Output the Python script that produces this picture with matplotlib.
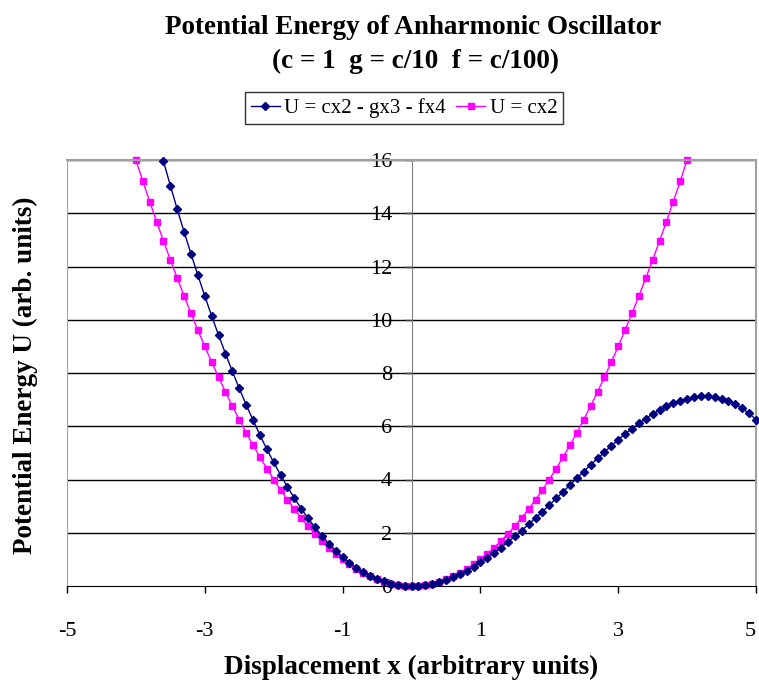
import matplotlib
matplotlib.use("Agg")
import matplotlib.pyplot as plt

# anharmonic curve U = cx2 - gx3 - fx4 (x from -3.6 to 5.0)
x_anh = [-3.6, -3.5, -3.4, -3.3, -3.2, -3.1, -3.0, -2.9, -2.8, -2.7,
         -2.6, -2.5, -2.4, -2.3, -2.2, -2.1, -2.0, -1.9, -1.8, -1.7,
         -1.6, -1.5, -1.4, -1.3, -1.2, -1.1, -1.0, -0.9, -0.8, -0.7,
         -0.6, -0.5, -0.4, -0.3, -0.2, -0.1, 0.0, 0.1, 0.2, 0.3,
         0.4, 0.5, 0.6, 0.7, 0.8, 0.9, 1.0, 1.1, 1.2, 1.3,
         1.4, 1.5, 1.6, 1.7, 1.8, 1.9, 2.0, 2.1, 2.2, 2.3,
         2.4, 2.5, 2.6, 2.7, 2.8, 2.9, 3.0, 3.1, 3.2, 3.3,
         3.4, 3.5, 3.6, 3.7, 3.8, 3.9, 4.0, 4.1, 4.2, 4.3,
         4.4, 4.5, 4.6, 4.7, 4.8, 4.9, 5.0]
u_anh = [15.95, 15.04, 14.15, 13.30, 12.47, 11.67, 10.89, 10.14, 9.42, 8.73,
         8.06, 7.42, 6.81, 6.23, 5.67, 5.14, 4.64, 4.17, 3.72, 3.30,
         2.90, 2.54, 2.20, 1.88, 1.59, 1.33, 1.09, 0.88, 0.69, 0.52,
         0.38, 0.26, 0.17, 0.09, 0.04, 0.01, 0.00, 0.01, 0.04, 0.09,
         0.15, 0.24, 0.34, 0.45, 0.58, 0.73, 0.89, 1.06, 1.25, 1.44,
         1.65, 1.86, 2.08, 2.32, 2.55, 2.79, 3.04, 3.29, 3.54, 3.79,
         4.05, 4.30, 4.55, 4.79, 5.03, 5.26, 5.49, 5.71, 5.91, 6.11,
         6.29, 6.46, 6.61, 6.75, 6.87, 6.96, 7.04, 7.09, 7.12, 7.12,
         7.09, 7.04, 6.95, 6.83, 6.67, 6.48, 6.25]

# harmonic curve U = cx2 (x from -4.0 to 4.0)
x_harm = [-4.0, -3.9, -3.8, -3.7, -3.6, -3.5, -3.4, -3.3, -3.2, -3.1,
          -3.0, -2.9, -2.8, -2.7, -2.6, -2.5, -2.4, -2.3, -2.2, -2.1,
          -2.0, -1.9, -1.8, -1.7, -1.6, -1.5, -1.4, -1.3, -1.2, -1.1,
          -1.0, -0.9, -0.8, -0.7, -0.6, -0.5, -0.4, -0.3, -0.2, -0.1,
          0.0, 0.1, 0.2, 0.3, 0.4, 0.5, 0.6, 0.7, 0.8, 0.9,
          1.0, 1.1, 1.2, 1.3, 1.4, 1.5, 1.6, 1.7, 1.8, 1.9,
          2.0, 2.1, 2.2, 2.3, 2.4, 2.5, 2.6, 2.7, 2.8, 2.9,
          3.0, 3.1, 3.2, 3.3, 3.4, 3.5, 3.6, 3.7, 3.8, 3.9, 4.0]
u_harm = [16.00, 15.21, 14.44, 13.69, 12.96, 12.25, 11.56, 10.89, 10.24, 9.61,
          9.00, 8.41, 7.84, 7.29, 6.76, 6.25, 5.76, 5.29, 4.84, 4.41,
          4.00, 3.61, 3.24, 2.89, 2.56, 2.25, 1.96, 1.69, 1.44, 1.21,
          1.00, 0.81, 0.64, 0.49, 0.36, 0.25, 0.16, 0.09, 0.04, 0.01,
          0.00, 0.01, 0.04, 0.09, 0.16, 0.25, 0.36, 0.49, 0.64, 0.81,
          1.00, 1.21, 1.44, 1.69, 1.96, 2.25, 2.56, 2.89, 3.24, 3.61,
          4.00, 4.41, 4.84, 5.29, 5.76, 6.25, 6.76, 7.29, 7.84, 8.41,
          9.00, 9.61, 10.24, 10.89, 11.56, 12.25, 12.96, 13.69, 14.44, 15.21, 16.00]

x_ticks = [-5, -3, -1, 1, 3, 5]
y_ticks = [0, 2, 4, 6, 8, 10, 12, 14, 16]

plt.rcParams['font.family'] = ['Liberation Serif', 'DejaVu Serif']

fig = plt.figure(figsize=(7.59, 6.86), dpi=100)
ax = fig.add_axes([67 / 759, 100 / 686, 689 / 759, 426 / 686])

for y in y_ticks[1:]:
    ax.axhline(y, color='black', lw=1.0, zorder=1)

ax.plot(x_anh, u_anh, color='#000080', lw=1.0, marker='D', markersize=4,
        label='U = cx2 - gx3 - fx4', zorder=3, clip_on=False)
ax.plot(x_harm, u_harm, color='#FF00FF', lw=1.0, marker='s', markersize=4.5,
        label='U = cx2', zorder=2, clip_on=False)

ax.set_xlim(-5, 5)
ax.set_ylim(0, 16)

# Excel style: vertical axis crosses at x = 0, grey frame round the plot area
ax.spines['left'].set_position(('data', 0))
ax.spines['left'].set_color('#808080')
ax.spines['left'].set_zorder(1)
ax.axvline(-5, color='#A0A0A0', lw=1.5, zorder=1)
for side in ['top', 'right']:
    ax.spines[side].set_color('#A0A0A0')
    ax.spines[side].set_linewidth(1.5)
ax.spines['bottom'].set_color('black')

ax.set_xticks(x_ticks)
ax.set_xticklabels([str(v) for v in x_ticks])
ax.set_yticks(y_ticks)
ax.set_yticklabels([str(v) for v in y_ticks])
ax.tick_params(axis='x', direction='out', length=5, width=1, pad=21, labelsize=16)
ax.tick_params(axis='y', direction='out', length=5, width=1, color='#404040', pad=9,
               labelsize=16)
ax.get_xticklabels()[-1].set_ha('right')

ax.set_xlabel('Displacement x (arbitrary units)', fontsize=19.5, fontweight='bold',
              labelpad=10)
fig.text(25 / 759, 1 - 375 / 686, 'Potential Energy U (arb. units)', rotation=90,
         fontsize=19.5, fontweight='bold', ha='center', va='center')

fig.text(413 / 759, 1 - 27 / 686, 'Potential Energy of Anharmonic Oscillator',
         fontsize=19.5, fontweight='bold', ha='center', va='center')
fig.text(415 / 759, 1 - 61 / 686, '(c = 1  g = c/10  f = c/100)', fontsize=19.5,
         fontweight='bold', ha='center', va='center')

leg = fig.legend(loc='center', bbox_to_anchor=(404 / 759, 1 - 108 / 686), ncol=2,
                 fontsize=15, frameon=True, fancybox=False, handlelength=1.4,
                 handletextpad=0.2, columnspacing=0.5, borderpad=0.3, borderaxespad=0)
leg.get_frame().set_edgecolor('black')
leg.get_frame().set_linewidth(1.0)

fig.savefig('out.png', dpi=100)
